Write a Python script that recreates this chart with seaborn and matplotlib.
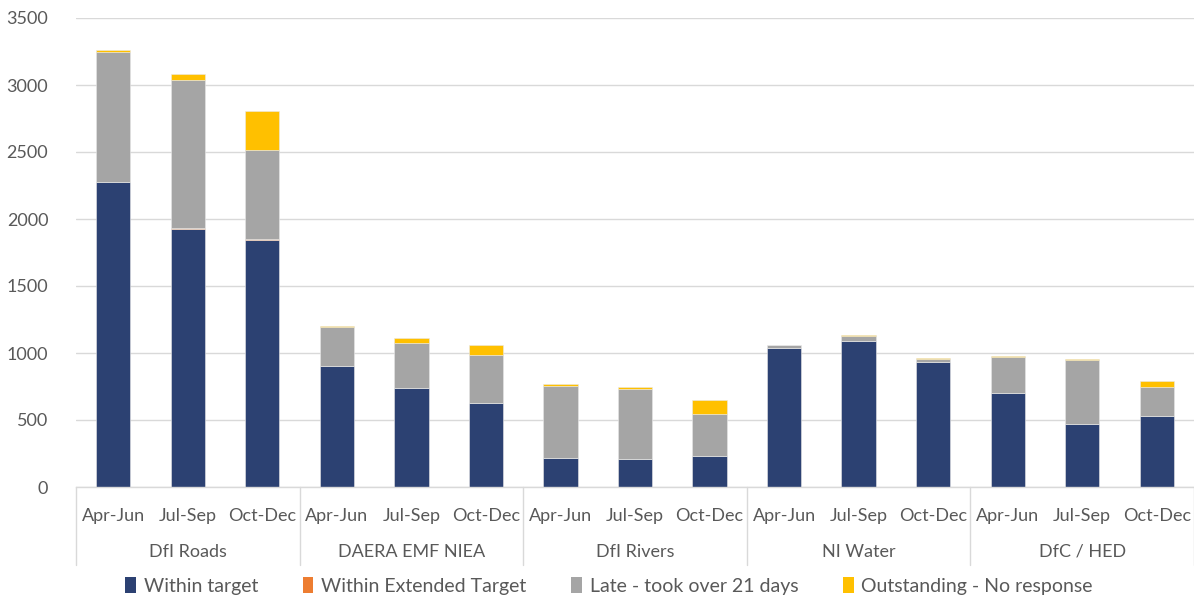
import matplotlib
matplotlib.use("Agg")
import matplotlib.pyplot as plt
import matplotlib.transforms as mtransforms
from matplotlib.patches import Patch
import seaborn as sns
import pandas as pd

# data
grupos = ["DfI Roads", "DAERA EMF NIEA", "DfI Rivers", "NI Water", "DfC / HED"]
trimestres = ["Apr-Jun", "Jul-Sep", "Oct-Dec"]

within_target = [2278, 1925, 1843, 906, 736, 626, 217, 210, 230, 1040, 1093, 936, 701, 472, 531]
within_extended = [0, 5, 5, 0, 0, 0, 0, 0, 0, 0, 0, 0, 0, 0, 0]
late = [969, 1108, 666, 289, 342, 357, 539, 519, 316, 20, 35, 20, 272, 474, 217]
outstanding = [17, 47, 291, 8, 35, 77, 13, 20, 101, 0, 7, 7, 7, 10, 43]

series = ["Within target", "Within Extended Target", "Late - took over 21 days", "Outstanding - No response"]
cores = ["#2C4172", "#ED7D31", "#A5A5A5", "#FFC000"]

sns.set_theme(style="white")
plt.rcParams["font.family"] = ["Lato", "DejaVu Sans"]

chaves = [g + "|" + t for g in grupos for t in trimestres]
df = pd.DataFrame({
    "chave": chaves,
    "within": within_target,
    "ext": within_extended,
    "late": late,
    "out": outstanding,
})

fig = plt.figure(figsize=(11.94, 5.98), dpi=100)
ax = fig.add_axes([76 / 1194, 1 - 487 / 598, 1 - 76 / 1194, (487 - 18) / 598])

base = [0] * len(df)
for col, nome, cor in zip(["within", "ext", "late", "out"], series, cores):
    sns.barplot(data=df, x="chave", y=col, color=cor, saturation=1, bottom=base, width=0.46,
                edgecolor="#E8E8E8", linewidth=0.4, ax=ax, order=chaves)
    base = [b + v for b, v in zip(base, df[col])]

ax.set_ylim(0, 3500)
ax.set_xlim(-0.5, len(chaves) - 0.5)
ax.set_yticks(range(0, 3501, 500))
ax.yaxis.grid(True, color="#D9D9D9", linewidth=1)
ax.set_axisbelow(True)
for s in ["top", "right", "left"]:
    ax.spines[s].set_visible(False)
ax.spines["bottom"].set_color("#D9D9D9")
ax.spines["bottom"].set_linewidth(1)
ax.set_xlabel("")
ax.set_ylabel("")
ax.set_xticks(range(len(chaves)))
ax.set_xticklabels(trimestres * len(grupos))
ax.tick_params(axis="x", length=0, pad=15, labelsize=13, labelcolor="#595959")
ax.tick_params(axis="y", length=0, pad=20, labelsize=13, labelcolor="#595959")

# group labels and separators under the axis
trans = mtransforms.blended_transform_factory(ax.transData, ax.transAxes)
for i, g in enumerate(grupos):
    ax.text(i * 3 + 1, -0.1385, g, transform=trans, ha="center", va="center",
            fontsize=13, color="#595959")
for i in range(len(grupos) + 1):
    ax.plot([i * 3 - 0.5, i * 3 - 0.5], [0, -0.166], transform=trans,
            color="#D9D9D9", linewidth=1, clip_on=False)

handles = [Patch(facecolor=c, edgecolor="none") for c in cores]
fig.legend(handles, series, loc="center", bbox_to_anchor=(0.51, 1 - 586 / 598), ncol=4,
           frameon=False, fontsize=14, handlelength=0.55, handleheight=0.85,
           handletextpad=0.4, columnspacing=2.3, labelcolor="#595959")

fig.savefig("out.png", dpi=100)
